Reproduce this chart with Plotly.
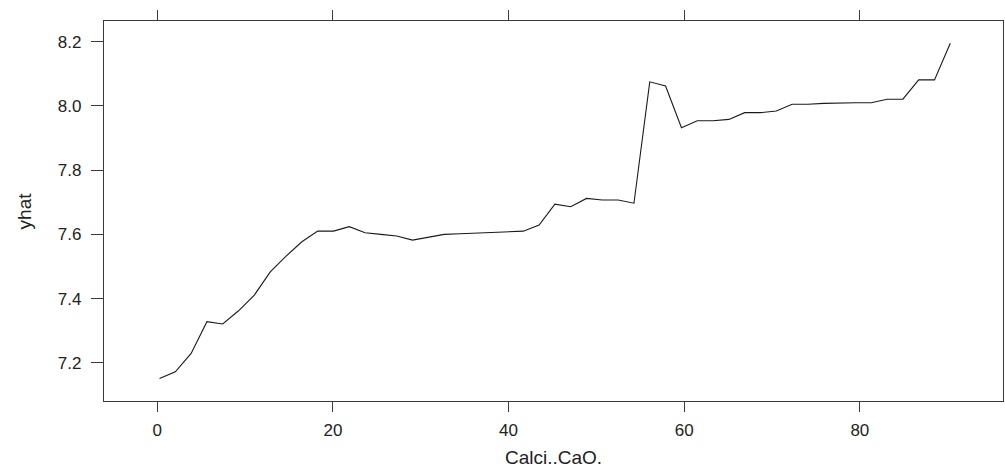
import plotly.graph_objects as go

calci_cao = [0.26, 2.06, 3.86, 5.66, 7.46, 9.26, 11.06, 12.87, 14.67, 16.47,
             18.27, 20.07, 21.87, 23.67, 25.47, 27.27, 29.07, 30.87, 32.67, 34.48,
             36.28, 38.08, 39.88, 41.68, 43.48, 45.28, 47.08, 48.88, 50.68, 52.48,
             54.28, 56.08, 57.88, 59.69, 61.49, 63.29, 65.09, 66.89, 68.69, 70.49,
             72.29, 74.09, 75.89, 77.69, 79.49, 81.30, 83.10, 84.90, 86.70, 88.50,
             90.30]
yhat = [7.151, 7.172, 7.229, 7.328, 7.321, 7.362, 7.411, 7.483, 7.532, 7.577,
        7.610, 7.610, 7.624, 7.605, 7.600, 7.595, 7.582, 7.592, 7.600, 7.602,
        7.604, 7.606, 7.606, 7.610, 7.629, 7.694, 7.686, 7.712, 7.707, 7.707,
        7.697, 8.075, 8.062, 7.932, 7.954, 7.954, 7.958, 7.979, 7.979, 7.984,
        8.005, 8.005, 8.008, 8.010, 8.010, 8.010, 8.021, 8.021, 8.081, 8.081,
        8.195]

x_ticks = [0, 20, 40, 60, 80]
y_ticks = [7.2, 7.4, 7.6, 7.8, 8.0, 8.2]
y_tick_labels = ["7.2", "7.4", "7.6", "7.8", "8.0", "8.2"]

x_range = [-6.06, 96.3]
y_range = [7.081, 8.2645]

axis_color = "#3a3a3a"
font_fam = "Liberation Sans, Arial, sans-serif"

fig = go.Figure()
fig.add_trace(go.Scatter(x=calci_cao, y=yhat, mode="lines",
                         line=dict(color="#1a1a1a", width=1.1),
                         showlegend=False, hoverinfo="x+y"))
# invisible trace to anchor the top axis
fig.add_trace(go.Scatter(x=[calci_cao[0]], y=[yhat[0]], xaxis="x2", mode="markers",
                         marker=dict(opacity=0), showlegend=False, hoverinfo="skip"))

common_x = dict(range=x_range, tickvals=x_ticks, ticks="outside", ticklen=10,
                tickwidth=1.3, tickcolor=axis_color, showline=True,
                linecolor=axis_color, linewidth=1.3, showgrid=False,
                zeroline=False)

fig.update_layout(
    width=1005, height=470,
    margin=dict(l=104, r=2, t=21, b=69),
    paper_bgcolor="white", plot_bgcolor="white",
    font=dict(family=font_fam, color="#222222"),
    xaxis=dict(**common_x, side="bottom", mirror=False,
               ticktext=[str(v) for v in x_ticks],
               tickfont=dict(size=17, color="#222222", family=font_fam),
               ticklabelstandoff=3),
    xaxis2=dict(**common_x, side="top", overlaying="x", showticklabels=False),
    yaxis=dict(range=y_range, tickvals=y_ticks, ticktext=y_tick_labels,
               ticks="outside", ticklen=12, tickwidth=1.3, tickcolor=axis_color,
               showline=True, linecolor=axis_color, linewidth=1.3, mirror=True,
               showgrid=False, zeroline=False,
               tickfont=dict(size=17, color="#222222", family=font_fam),
               ticklabelstandoff=6),
    annotations=[
        dict(text="Calci..CaO.", xref="paper", yref="paper", x=0.5, y=-0.148,
             xanchor="center", yanchor="middle", showarrow=False,
             font=dict(size=19, color="#222222", family=font_fam)),
        dict(text="yhat", xref="paper", yref="paper", x=-0.0885, y=0.5,
             xanchor="center", yanchor="middle", showarrow=False, textangle=-90,
             font=dict(size=19, color="#222222", family=font_fam)),
    ],
)

fig.write_html("out.html")
